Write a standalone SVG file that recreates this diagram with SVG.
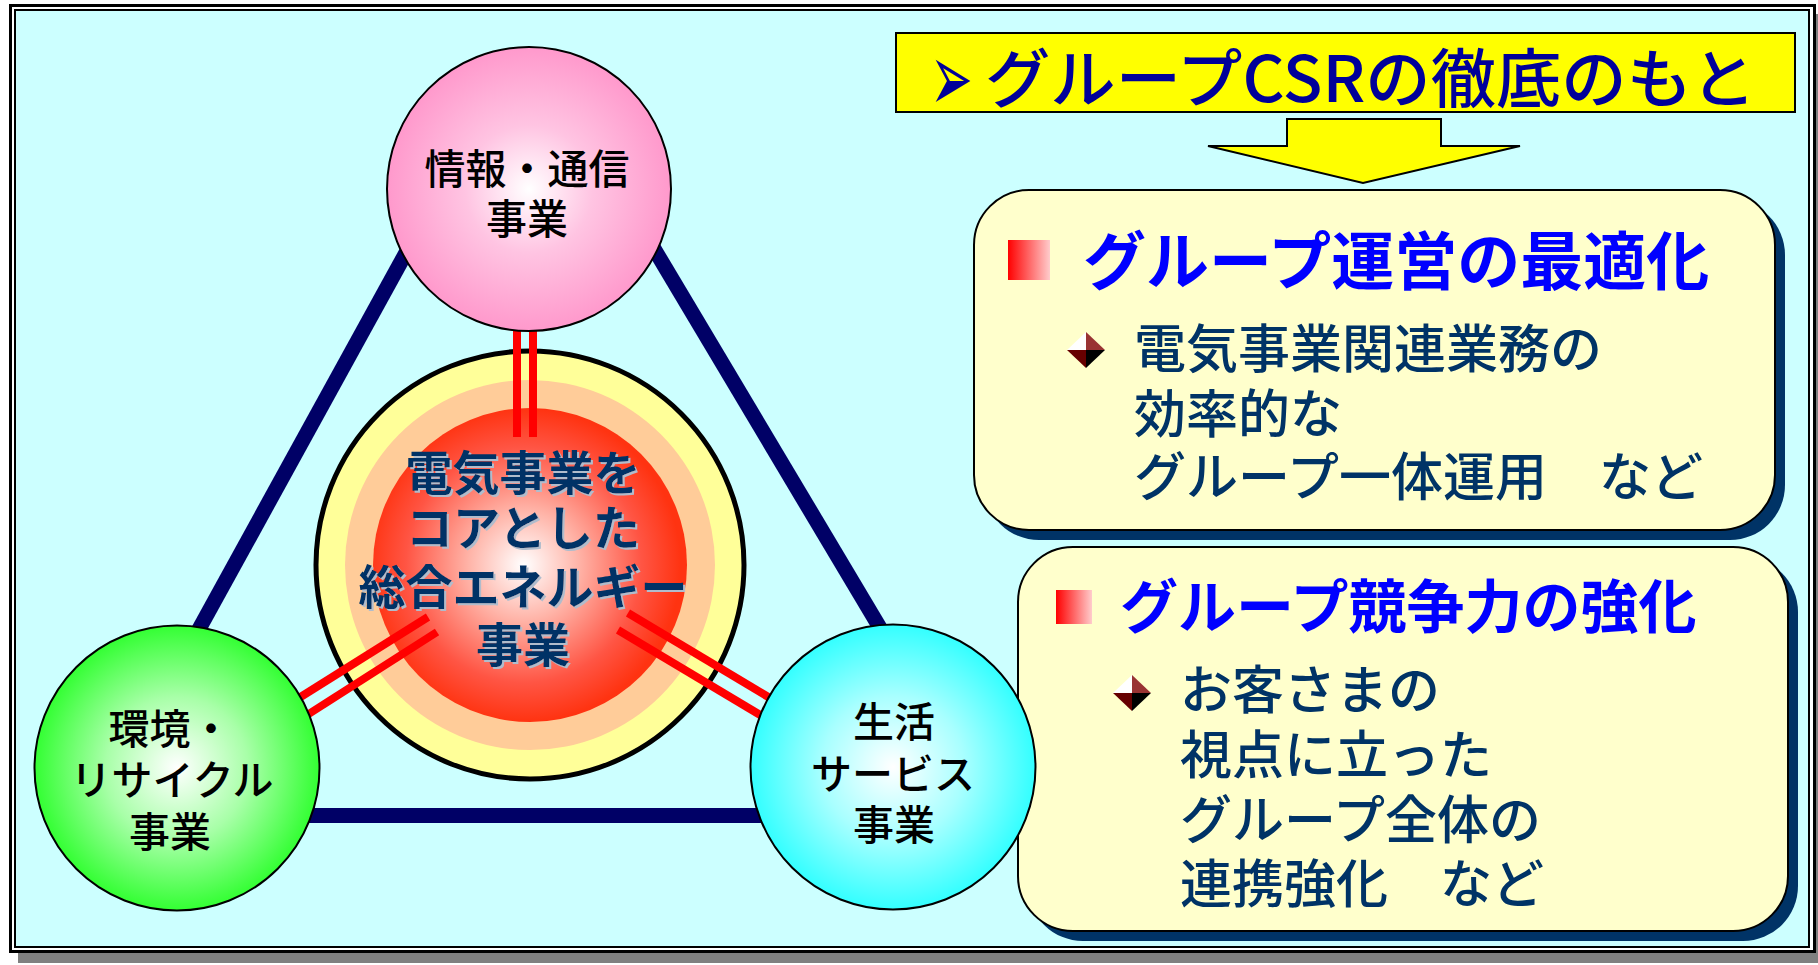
<svg xmlns="http://www.w3.org/2000/svg" width="1818" height="965" viewBox="0 0 1818 965">
<style>
.jp{font-family:"Noto Sans CJK JP","Noto Sans CJK SC",sans-serif}
.ct{font-size:41px;fill:#000;text-anchor:middle;font-weight:500}
.core{font-size:47px;font-weight:700;text-anchor:middle;fill:#003366}
.body{font-size:52px;fill:#003366;font-weight:500}
.head{fill:#0000FF;font-weight:700}
.navy{stroke:#000066;stroke-width:15;fill:none}
.red{stroke:#FF0000;stroke-width:8;fill:none}
.box{fill:#FFFFCC;stroke:#000;stroke-width:2}
.shadow{fill:#003366}
.circ{stroke:#000;stroke-width:2}
</style>
<defs>
<radialGradient id="gPink" cx="0.5" cy="0.5" r="0.5"><stop offset="0" stop-color="#FFFFFF"/><stop offset="0.45" stop-color="#FFC4E2"/><stop offset="1" stop-color="#FF99CC"/></radialGradient>
<radialGradient id="gGreen" cx="0.5" cy="0.5" r="0.5"><stop offset="0" stop-color="#FFFFFF"/><stop offset="0.5" stop-color="#A8FFA8"/><stop offset="1" stop-color="#33FF33"/></radialGradient>
<radialGradient id="gCyan" cx="0.5" cy="0.5" r="0.5"><stop offset="0" stop-color="#FFFFFF"/><stop offset="0.5" stop-color="#A8FFFF"/><stop offset="1" stop-color="#33FFFF"/></radialGradient>
<radialGradient id="gCore" cx="0.48" cy="0.5" r="0.5"><stop offset="0" stop-color="#FFFFFF"/><stop offset="0.35" stop-color="#FFB4A8"/><stop offset="0.75" stop-color="#FF5544"/><stop offset="1" stop-color="#FF3311"/></radialGradient>
<linearGradient id="gSq" x1="0" y1="0" x2="1" y2="0"><stop offset="0" stop-color="#FF0000"/><stop offset="1" stop-color="#FFCCCC"/></linearGradient>
<filter id="txtShadow" x="-10%" y="-20%" width="120%" height="140%">
<feOffset in="SourceAlpha" dx="2" dy="2" result="off"/>
<feFlood flood-color="#B0BCCC"/>
<feComposite in2="off" operator="in" result="sh"/>
<feMerge><feMergeNode in="sh"/><feMergeNode in="SourceGraphic"/></feMerge>
</filter>
<g id="diamond">
<polygon points="-19,0 0,-18 0,0" fill="#FFFFFF"/>
<polygon points="0,-18 19,0 0,0" fill="#993333"/>
<polygon points="-19,0 0,0 0,18" fill="#660000"/>
<polygon points="0,0 19,0 0,18" fill="#000000"/>
</g>
</defs>

<g id="frame">
<rect x="18" y="14" width="1800" height="949" fill="#808080"/>
<rect x="10.5" y="5.5" width="1804" height="946" fill="#FFFFFF" stroke="#000" stroke-width="3"/>
<rect x="15" y="10" width="1794" height="937" fill="#CCFFFF" stroke="#000" stroke-width="2"/>
</g>

<g id="title">
<rect x="896" y="33" width="899" height="79" fill="#FFFF00" stroke="#000" stroke-width="2"/>
<text transform="translate(930,111) scale(0.8,1.5)" x="0" y="0" font-family="DejaVu Sans, sans-serif" font-size="64" fill="#000099">➢</text>
<text x="985" y="102" class="jp" font-size="64" font-weight="500" fill="#000099" textLength="771" lengthAdjust="spacingAndGlyphs">グループCSRの徹底のもと</text>
</g>

<g id="down-arrow">
<polygon points="1287,119 1441,119 1441,146 1520,146 1363,183 1208,146 1287,146" fill="#FFFF00" stroke="#000" stroke-width="2" stroke-linejoin="miter"/>
</g>

<g id="box-optimize">
<rect x="984" y="200" width="801" height="340" rx="55" class="shadow"/>
<rect x="974" y="190" width="801" height="340" rx="55" class="box"/>
<rect x="1008" y="240" width="42" height="40" fill="url(#gSq)"/>
<text x="1083" y="284" class="jp head" font-size="63">グループ運営の最適化</text>
<use href="#diamond" x="1086" y="350"/>
<text class="jp body"><tspan x="1134" y="368">電気事業関連業務の</tspan><tspan x="1134" y="433">効率的な</tspan><tspan x="1134" y="496">グループ一体運用　など</tspan></text>
</g>

<g id="box-compete">
<rect x="1028" y="557" width="770" height="384" rx="55" class="shadow"/>
<rect x="1018" y="547" width="770" height="384" rx="55" class="box"/>
<rect x="1056" y="590" width="36" height="34" fill="url(#gSq)"/>
<text x="1120" y="628" class="jp head" font-size="58">グループ競争力の強化</text>
<use href="#diamond" x="1132" y="693"/>
<text class="jp body"><tspan x="1180" y="709">お客さまの</tspan><tspan x="1180" y="774">視点に立った</tspan><tspan x="1180" y="839">グループ全体の</tspan><tspan x="1180" y="903">連携強化　など</tspan></text>
</g>

<g id="connectors">
<line class="navy" x1="435" y1="200" x2="160" y2="700"/>
<line class="navy" x1="625" y1="200" x2="923" y2="700"/>
<line class="navy" x1="250" y1="815.5" x2="820" y2="815.5"/>
</g>

<g id="core">
<circle cx="530" cy="565" r="214" fill="#FFFF99" stroke="#000" stroke-width="5"/>
<circle cx="530" cy="565" r="185" fill="#FFCC99"/>
<circle cx="530" cy="565" r="157" fill="url(#gCore)"/>
</g>

<g id="red-links">
<line class="red" x1="517" y1="320" x2="517" y2="437"/>
<line class="red" x1="533" y1="320" x2="533" y2="437"/>
<line class="red" x1="283" y1="708" x2="428" y2="617"/>
<line class="red" x1="293" y1="724" x2="437" y2="632"/>
<line class="red" x1="785" y1="707" x2="628" y2="613"/>
<line class="red" x1="777" y1="725" x2="618" y2="630"/>
</g>

<g id="core-text">
<text class="jp core" filter="url(#txtShadow)"><tspan x="523" y="490">電気事業を</tspan><tspan x="523" y="545">コアとした</tspan><tspan x="523" y="604">総合エネルギー</tspan><tspan x="523" y="662">事業</tspan></text>
</g>

<g id="node-info">
<circle cx="529" cy="189" r="142" fill="url(#gPink)" class="circ"/>
<text class="jp ct" font-weight="700"><tspan x="527" y="184">情報・通信</tspan><tspan x="527" y="234">事業</tspan></text>
</g>

<g id="node-env">
<circle cx="177" cy="768" r="142.5" fill="url(#gGreen)" class="circ"/>
<text class="jp ct"><tspan x="170" y="744">環境・</tspan><tspan x="172" y="795">リサイクル</tspan><tspan x="170" y="847">事業</tspan></text>
</g>

<g id="node-life">
<circle cx="893" cy="767" r="142.5" fill="url(#gCyan)" class="circ"/>
<text class="jp ct"><tspan x="894" y="737">生活</tspan><tspan x="893" y="789">サービス</tspan><tspan x="894" y="840">事業</tspan></text>
</g>
</svg>
